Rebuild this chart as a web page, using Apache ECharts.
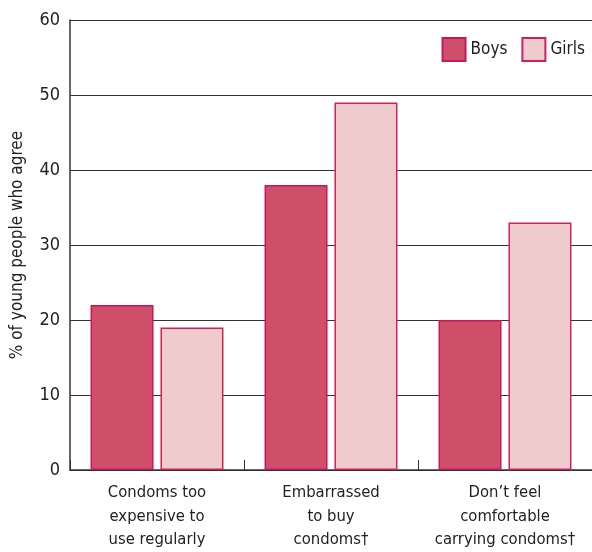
<!DOCTYPE html>
<html><head><meta charset="utf-8">
<script src="https://cdn.jsdelivr.net/npm/echarts@6/dist/echarts.min.js"></script>
<style>html,body{margin:0;padding:0;background:#fff}#c{width:592px;height:552px}</style>
</head><body><div id="c"></div>
<script>
const categories = ["Condoms too\nexpensive to\nuse regularly", "Embarrassed\nto buy\ncondoms†", "Don’t feel\ncomfortable\ncarrying condoms†"];
const boys = [22, 38, 20];
const girls = [19, 49, 33];
const yTicks = [0, 10, 20, 30, 40, 50, 60];
const FONT = "'Liberation Sans Narrow','DejaVu Sans Condensed',sans-serif";
const chart = echarts.init(document.getElementById('c'));
chart.setOption({
  animation: false,
  textStyle: { fontFamily: FONT },
  legend: {
    right: 2, top: 32, itemWidth: 23, itemHeight: 23, itemGap: 14, icon: 'rect',
    textStyle: { fontFamily: FONT, fontSize: 17, color: '#222' },
    data: ['Boys', 'Girls']
  },
  grid: { left: 70, right: 0, top: 20, bottom: 82, outerBoundsMode: 'none', containLabel: false },
  xAxis: {
    type: 'category', data: categories,
    axisLine: { lineStyle: { color: '#333', width: 1.5 } },
    axisTick: { show: true, interval: 0, alignWithLabel: false, length: 10, inside: true, lineStyle: { color: '#333' } },
    axisLabel: { interval: 0, fontFamily: FONT, fontSize: 16.5, color: '#222', lineHeight: 23.5, margin: 11 }
  },
  yAxis: {
    type: 'value', min: yTicks[0], max: yTicks[yTicks.length - 1], interval: 10,
    name: '% of young people who agree', nameLocation: 'middle', nameGap: 44,
    nameTextStyle: { fontFamily: FONT, fontSize: 17, color: '#222' },
    axisLine: { show: true, lineStyle: { color: '#333', width: 1.5 } },
    axisTick: { show: false },
    splitLine: { lineStyle: { color: '#333', width: 1.2 } },
    axisLabel: { fontFamily: FONT, fontSize: 18, color: '#222', margin: 10 }
  },
  series: [
    { name: 'Boys', type: 'bar', data: boys, barWidth: 63, barGap: '11%',
      itemStyle: { color: '#cf4e6a', borderColor: '#c8185a', borderWidth: 1.5 } },
    { name: 'Girls', type: 'bar', data: girls, barWidth: 63,
      itemStyle: { color: '#f0cbce', borderColor: '#d0205a', borderWidth: 1.5 } }
  ]
});
</script></body></html>
